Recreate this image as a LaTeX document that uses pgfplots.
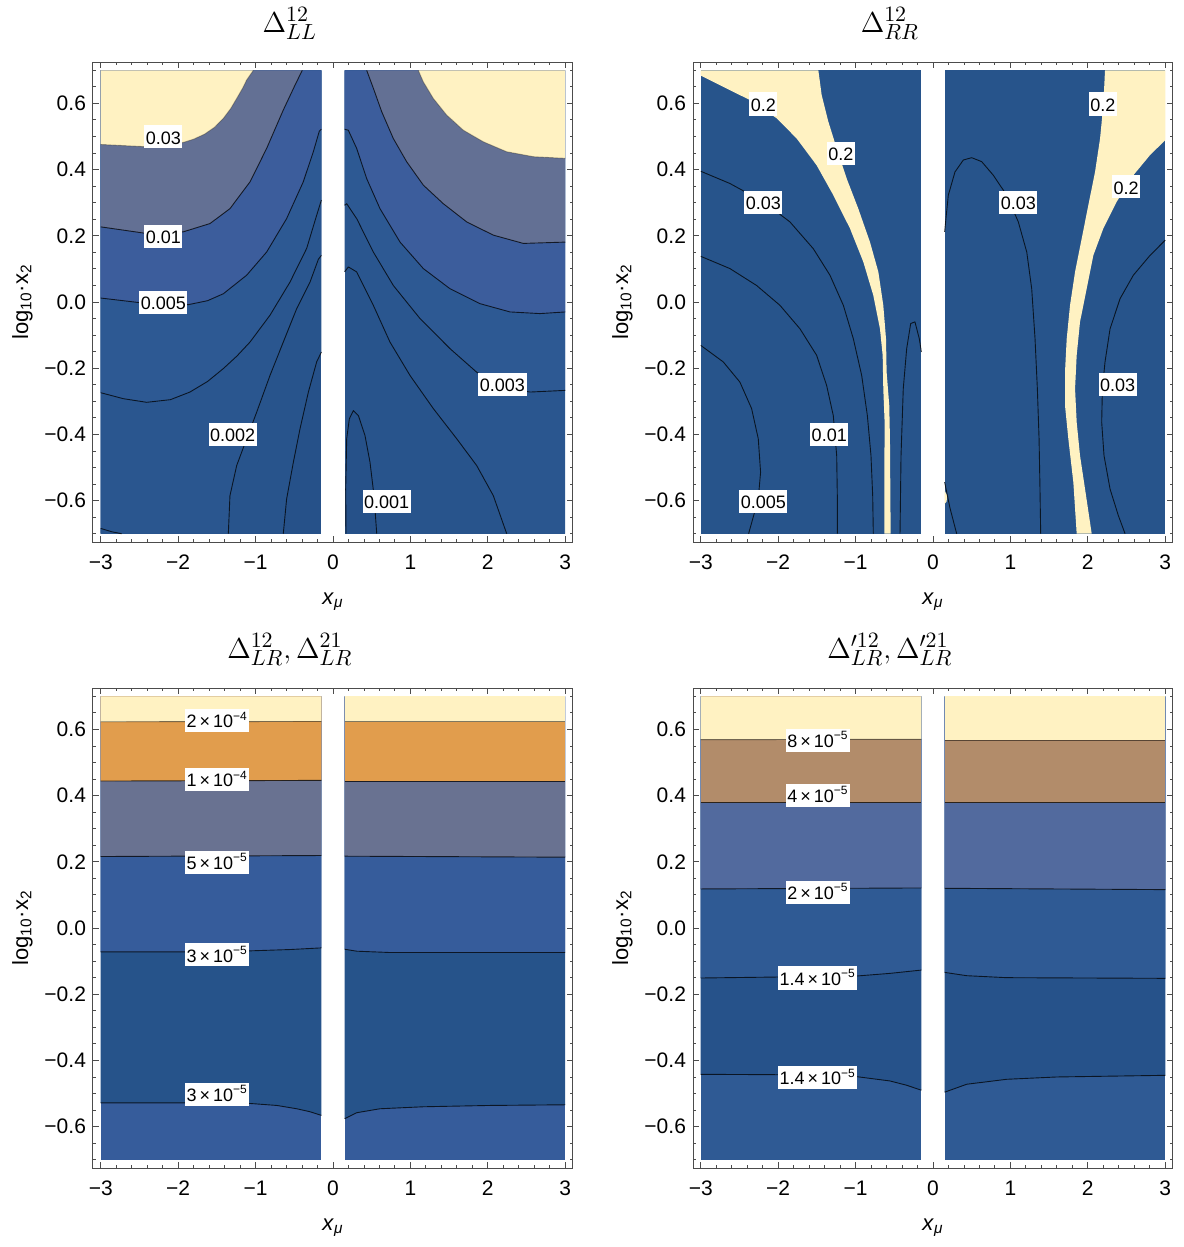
\documentclass[border=0pt]{standalone}
\usepackage{fontspec}
\setmainfont{Liberation Sans}
\usepackage{pgfplots}
\pgfplotsset{compat=1.18}

\definecolor{cYel}{RGB}{255,242,194}
% Delta_LL bands
\definecolor{cB0}{RGB}{38,81,137}
\definecolor{cB1}{RGB}{40,84,140}
\definecolor{cB2}{RGB}{42,86,143}
\definecolor{cB3}{RGB}{45,89,147}
\definecolor{cB4}{RGB}{60,93,156}
\definecolor{cB5}{RGB}{99,112,148}
% Delta_RR
\definecolor{cDk2}{RGB}{39,84,139}
% Delta_LR
\definecolor{cOr}{RGB}{225,157,77}
\definecolor{cGr3}{RGB}{105,114,145}
\definecolor{cBl3}{RGB}{54,92,155}
\definecolor{cDk3}{RGB}{38,83,138}
% Delta'_LR
\definecolor{cBr}{RGB}{178,140,106}
\definecolor{cBg4}{RGB}{82,106,158}
\definecolor{cBl4}{RGB}{47,90,148}
\definecolor{cDk4}{RGB}{38,82,138}

\tikzset{lbl/.style={fill=white, inner xsep=0.8pt, inner ysep=1.6pt,
  text height=7.8pt, text depth=0.6pt, font=\fontsize{9}{10}\selectfont}}

\pgfplotsset{
  reg/.style={fill=#1, draw=none},
  cline/.style={black, opacity=0.75, line width=0.45pt, line join=round},
  panel/.style={
    scale only axis, width=240pt, height=240pt,
    xmin=-3.1, xmax=3.1, ymin=-0.725, ymax=0.725,
    xtick={-3,-2,-1,0,1,2,3},
    xticklabels={−3,−2,−1,0,1,2,3},
    ytick={-0.6,-0.4,-0.2,0,0.2,0.4,0.6},
    yticklabels={−0.6,−0.4,−0.2,0.0,0.2,0.4,0.6},
    minor x tick num=4, minor y tick num=3,
    extra y ticks={-0.7,-0.65,0.65,0.7}, extra y tick labels={},
    extra y tick style={major tick length=1.7pt},
    tick align=inside, tick pos=both,
    major tick length=2.8pt, minor tick length=1.7pt,
    every tick/.style={black!70, line width=0.45pt},
    axis line style={black!70, line width=0.5pt},
    tick label style={font=\fontsize{10.5}{12}\selectfont},
    xticklabel style={anchor=base, yshift=-13.5pt},
    title style={at={(0.41,1)}, anchor=base, yshift=9pt,
      font=\fontsize{15}{18}\selectfont},
    xlabel={\textit{x}\textsubscript{\textit{μ}}},
    ylabel={log\textsubscript{10}·x\textsubscript{2}},
    label style={font=\fontsize{11}{13}\selectfont},
    xlabel style={at={(axis description cs:0.5,-0.13)}, anchor=base},
    ylabel style={at={(axis description cs:-0.135,0.5)}, anchor=base},
  },
}

\begin{document}
\begin{tikzpicture}
\useasboundingbox (0,0) rectangle (591.5pt,-623.5pt);

% ---------------- Delta_LL ----------------
\begin{axis}[panel, at={(46.5pt,-271pt)}, anchor=south west,
  title={$\Delta^{12}_{LL}$}]
% left half
\addplot[reg=cB0] coordinates {(-3,-0.7) (-0.15,-0.7) (-0.15,0.7) (-3,0.7)};
\addplot[reg=cB1] coordinates {(-0.642,-0.70) (-0.599,-0.595) (-0.512,-0.484) (-0.426,-0.383) (-0.318,-0.272) (-0.211,-0.181) (-0.15,-0.151) (-0.15,0.7) (-3,0.7) (-3,-0.7)};
\addplot[reg=cB2] coordinates {(-1.352,-0.70) (-1.331,-0.585) (-1.244,-0.494) (-1.115,-0.413) (-0.986,-0.333) (-0.814,-0.222) (-0.642,-0.121) (-0.469,-0.020) (-0.297,0.060) (-0.189,0.129) (-0.15,0.141) (-0.15,0.7) (-3,0.7) (-3,-0.7)};
\addplot[reg=cB1] coordinates {(-3,-0.684) (-2.859,-0.694) (-2.730,-0.70) (-3,-0.70)};
\addplot[reg=cB3] coordinates {(-3,-0.274) (-2.709,-0.292) (-2.407,-0.303) (-2.1,-0.295) (-1.848,-0.272) (-1.62,-0.240) (-1.416,-0.201) (-1.24,-0.163) (-1.072,-0.121) (-0.814,-0.040) (-0.556,0.060) (-0.340,0.162) (-0.211,0.262) (-0.15,0.308) (-0.15,0.7) (-3,0.7)};
\addplot[reg=cB4] coordinates {(-3,0.012) (-2.494,-0.002) (-1.869,-0.008) (-1.62,0.004) (-1.416,0.025) (-1.115,0.081) (-0.857,0.151) (-0.599,0.252) (-0.384,0.363) (-0.254,0.454) (-0.177,0.516) (-0.15,0.522) (-0.15,0.7) (-3,0.7)};
\addplot[reg=cB5] coordinates {(-3,0.227) (-2.407,0.207) (-1.934,0.212) (-1.589,0.237) (-1.331,0.282) (-1.072,0.363) (-0.857,0.464) (-0.642,0.580) (-0.491,0.655) (-0.397,0.70) (-3,0.7)};
\addplot[reg=cYel] coordinates {(-3,0.476) (-2.407,0.469) (-2.1,0.474) (-1.934,0.482) (-1.80,0.492) (-1.66,0.507) (-1.53,0.528) (-1.416,0.555) (-1.32,0.585) (-1.244,0.615) (-1.17,0.645) (-1.115,0.671) (-1.029,0.70) (-3,0.7)};
% right half
\addplot[reg=cB1] coordinates {(0.15,-0.7) (3,-0.7) (3,0.7) (0.15,0.7)};
\addplot[reg=cB0] coordinates {(0.168,-0.70) (0.164,-0.565) (0.177,-0.413) (0.211,-0.353) (0.263,-0.328) (0.328,-0.343) (0.413,-0.403) (0.478,-0.484) (0.530,-0.585) (0.565,-0.70)};
\addplot[reg=cB2] coordinates {(0.15,0.091) (0.198,0.106) (0.306,0.091) (0.521,-0.010) (0.736,-0.121) (0.995,-0.222) (1.296,-0.322) (1.598,-0.413) (1.856,-0.494) (2.071,-0.585) (2.244,-0.70) (3,-0.7) (3,0.7) (0.15,0.7)};
\addplot[reg=cB3] coordinates {(0.15,0.292) (0.177,0.297) (0.306,0.252) (0.521,0.151) (0.779,0.050) (1.124,-0.050) (1.512,-0.141) (1.856,-0.212) (2.201,-0.257) (2.545,-0.272) (3,-0.267) (3,0.7) (0.15,0.7)};
\addplot[reg=cB4] coordinates {(0.15,0.522) (0.198,0.519) (0.306,0.464) (0.435,0.373) (0.607,0.282) (0.866,0.181) (1.167,0.101) (1.512,0.040) (1.899,-0.005) (2.287,-0.030) (2.674,-0.035) (3,-0.030) (3,0.7) (0.15,0.7)};
\addplot[reg=cB5] coordinates {(0.435,0.70) (0.521,0.646) (0.629,0.575) (0.779,0.494) (0.951,0.424) (1.167,0.353) (1.425,0.297) (1.727,0.242) (2.071,0.202) (2.459,0.177) (3,0.181) (3,0.7)};
\addplot[reg=cYel] coordinates {(1.102,0.70) (1.167,0.665) (1.296,0.615) (1.468,0.565) (1.684,0.519) (1.942,0.484) (2.243,0.454) (2.588,0.439) (3,0.434) (3,0.7)};
% contour lines
\addplot[cline] coordinates {(-0.642,-0.70) (-0.599,-0.595) (-0.512,-0.484) (-0.426,-0.383) (-0.318,-0.272) (-0.211,-0.181) (-0.15,-0.151)};
\addplot[cline] coordinates {(-1.352,-0.70) (-1.331,-0.585) (-1.244,-0.494) (-1.115,-0.413) (-0.986,-0.333) (-0.814,-0.222) (-0.642,-0.121) (-0.469,-0.020) (-0.297,0.060) (-0.189,0.129) (-0.15,0.141)};
\addplot[cline] coordinates {(-3,-0.684) (-2.859,-0.694) (-2.730,-0.70)};
\addplot[cline] coordinates {(-3,-0.274) (-2.709,-0.292) (-2.407,-0.303) (-2.1,-0.295) (-1.848,-0.272) (-1.62,-0.240) (-1.416,-0.201) (-1.24,-0.163) (-1.072,-0.121) (-0.814,-0.040) (-0.556,0.060) (-0.340,0.162) (-0.211,0.262) (-0.15,0.308)};
\addplot[cline] coordinates {(-3,0.012) (-2.494,-0.002) (-1.869,-0.008) (-1.62,0.004) (-1.416,0.025) (-1.115,0.081) (-0.857,0.151) (-0.599,0.252) (-0.384,0.363) (-0.254,0.454) (-0.177,0.516) (-0.15,0.522)};
\addplot[cline] coordinates {(-3,0.227) (-2.407,0.207) (-1.934,0.212) (-1.589,0.237) (-1.331,0.282) (-1.072,0.363) (-0.857,0.464) (-0.642,0.580) (-0.491,0.655) (-0.397,0.70)};
\addplot[cline, opacity=0.3] coordinates {(-3,0.476) (-2.407,0.469) (-2.1,0.474) (-1.934,0.482) (-1.80,0.492) (-1.66,0.507) (-1.53,0.528) (-1.416,0.555) (-1.32,0.585) (-1.244,0.615) (-1.17,0.645) (-1.115,0.671) (-1.029,0.70)};
\addplot[cline] coordinates {(0.168,-0.70) (0.164,-0.565) (0.177,-0.413) (0.211,-0.353) (0.263,-0.328) (0.328,-0.343) (0.413,-0.403) (0.478,-0.484) (0.530,-0.585) (0.565,-0.70)};
\addplot[cline] coordinates {(0.15,0.091) (0.198,0.106) (0.306,0.091) (0.521,-0.010) (0.736,-0.121) (0.995,-0.222) (1.296,-0.322) (1.598,-0.413) (1.856,-0.494) (2.071,-0.585) (2.244,-0.70)};
\addplot[cline] coordinates {(0.15,0.292) (0.177,0.297) (0.306,0.252) (0.521,0.151) (0.779,0.050) (1.124,-0.050) (1.512,-0.141) (1.856,-0.212) (2.201,-0.257) (2.545,-0.272) (3,-0.267)};
\addplot[cline] coordinates {(0.15,0.522) (0.198,0.519) (0.306,0.464) (0.435,0.373) (0.607,0.282) (0.866,0.181) (1.167,0.101) (1.512,0.040) (1.899,-0.005) (2.287,-0.030) (2.674,-0.035) (3,-0.030)};
\addplot[cline] coordinates {(0.435,0.70) (0.521,0.646) (0.629,0.575) (0.779,0.494) (0.951,0.424) (1.167,0.353) (1.425,0.297) (1.727,0.242) (2.071,0.202) (2.459,0.177) (3,0.181)};
\addplot[cline, opacity=0.3] coordinates {(1.102,0.70) (1.167,0.665) (1.296,0.615) (1.468,0.565) (1.684,0.519) (1.942,0.484) (2.243,0.454) (2.588,0.439) (3,0.434)};
\node[lbl] at (axis cs:-2.192,0.499) {0.03};
\node[lbl] at (axis cs:-2.192,0.199) {0.01};
\node[lbl] at (axis cs:-2.192,-0.002) {0.005};
\node[lbl] at (axis cs:-1.296,-0.401) {0.002};
\node[lbl] at (axis cs:2.188,-0.250) {0.003};
\node[lbl] at (axis cs:0.693,-0.602) {0.001};
\end{axis}

% ---------------- Delta_RR ----------------
\begin{axis}[panel, at={(346.5pt,-271pt)}, anchor=south west,
  title={$\Delta^{12}_{RR}$}]
\addplot[reg=cDk2] coordinates {(-3,-0.7) (-0.15,-0.7) (-0.15,0.7) (-3,0.7)};
\addplot[reg=cDk2] coordinates {(0.15,-0.7) (3,-0.7) (3,0.7) (0.15,0.7)};
\addplot[reg=cYel] coordinates {(-3,0.684) (-2.709,0.650) (-2.364,0.610) (-2.019,0.555) (-1.761,0.494) (-1.503,0.413) (-1.288,0.323) (-1.072,0.222) (-0.900,0.121) (-0.771,0.020) (-0.685,-0.081) (-0.650,-0.161) (-0.642,-0.262) (-0.625,-0.363) (-0.629,-0.565) (-0.629,-0.70) (-0.547,-0.70) (-0.556,-0.413) (-0.565,-0.312) (-0.599,-0.212) (-0.607,-0.111) (-0.642,-0.010) (-0.706,0.091) (-0.814,0.181) (-0.965,0.282) (-1.115,0.373) (-1.244,0.464) (-1.352,0.545) (-1.438,0.625) (-1.481,0.70) (-3,0.70)};
\addplot[reg=cYel] coordinates {(2.222,0.70) (2.200,0.595) (2.158,0.494) (2.093,0.393) (2.007,0.293) (1.921,0.192) (1.835,0.091) (1.770,-0.010) (1.727,-0.111) (1.705,-0.212) (1.705,-0.312) (1.748,-0.413) (1.813,-0.545) (1.856,-0.70) (2.050,-0.70) (1.964,-0.565) (1.899,-0.464) (1.856,-0.363) (1.835,-0.262) (1.856,-0.161) (1.899,-0.060) (1.985,0.040) (2.071,0.141) (2.200,0.222) (2.373,0.303) (2.588,0.383) (2.804,0.444) (3,0.489) (3,0.70)};
\addplot[reg=cYel] coordinates {(0.15,-0.570) (0.185,-0.585) (0.175,-0.603) (0.15,-0.610)};
\addplot[cline] coordinates {(-3,0.395) (-2.623,0.358) (-2.192,0.303) (-1.848,0.242) (-1.546,0.161) (-1.331,0.081) (-1.158,-0.010) (-1.029,-0.111) (-0.921,-0.222) (-0.848,-0.343) (-0.801,-0.464) (-0.779,-0.585) (-0.771,-0.70)};
\addplot[cline] coordinates {(-3,0.138) (-2.623,0.101) (-2.279,0.050) (-1.977,-0.010) (-1.718,-0.081) (-1.503,-0.161) (-1.374,-0.252) (-1.288,-0.343) (-1.244,-0.464) (-1.236,-0.585) (-1.236,-0.70)};
\addplot[cline] coordinates {(-3,-0.131) (-2.709,-0.181) (-2.494,-0.242) (-2.343,-0.322) (-2.257,-0.413) (-2.227,-0.514) (-2.257,-0.595) (-2.382,-0.70)};
\addplot[cline] coordinates {(-0.426,-0.70) (-0.413,-0.464) (-0.384,-0.262) (-0.340,-0.141) (-0.288,-0.065) (-0.233,-0.060) (-0.177,-0.111) (-0.15,-0.151)};
\addplot[cline] coordinates {(0.15,0.212) (0.198,0.323) (0.284,0.393) (0.392,0.429) (0.500,0.436) (0.629,0.424) (0.779,0.383) (0.951,0.323) (1.102,0.242) (1.211,0.151) (1.275,0.040) (1.318,-0.111) (1.348,-0.262) (1.370,-0.413) (1.382,-0.565) (1.391,-0.70)};
\addplot[cline] coordinates {(3,0.187) (2.804,0.141) (2.588,0.081) (2.416,0.010) (2.287,-0.081) (2.222,-0.181) (2.188,-0.262) (2.179,-0.363) (2.209,-0.464) (2.287,-0.565) (2.394,-0.645) (2.481,-0.70)};
\addplot[cline] coordinates {(0.15,-0.544) (0.220,-0.623) (0.306,-0.70)};
\node[lbl] at (axis cs:-2.192,0.598) {0.2};
\node[lbl] at (axis cs:-1.189,0.449) {0.2};
\node[lbl] at (axis cs:-2.192,0.300) {0.03};
\node[lbl] at (axis cs:-1.340,-0.401) {0.01};
\node[lbl] at (axis cs:-2.192,-0.602) {0.005};
\node[lbl] at (axis cs:2.194,0.598) {0.2};
\node[lbl] at (axis cs:1.102,0.300) {0.03};
\node[lbl] at (axis cs:2.494,0.348) {0.2};
\node[lbl] at (axis cs:2.386,-0.250) {0.03};
\end{axis}

% ---------------- Delta_LR ----------------
\begin{axis}[panel, at={(46.5pt,-584pt)}, anchor=south west,
  title={$\Delta^{12}_{LR}, \Delta^{21}_{LR}$}]
\addplot[reg=cBl3] coordinates {(-3,-0.7) (-0.15,-0.7) (-0.15,0.7) (-3,0.7)};
\addplot[reg=cDk3] coordinates {(-3,-0.528) (-1.848,-0.528) (-1.072,-0.530) (-0.727,-0.536) (-0.469,-0.546) (-0.297,-0.555) (-0.15,-0.566) (-0.15,0.7) (-3,0.7)};
\addplot[reg=cBl3] coordinates {(-3,-0.072) (-1.848,-0.072) (-1.072,-0.069) (-0.556,-0.065) (-0.15,-0.060) (-0.15,0.7) (-3,0.7)};
\addplot[reg=cGr3] coordinates {(-3,0.216) (-0.15,0.219) (-0.15,0.7) (-3,0.7)};
\addplot[reg=cOr] coordinates {(-3,0.444) (-0.15,0.446) (-0.15,0.7) (-3,0.7)};
\addplot[reg=cYel] coordinates {(-3,0.623) (-0.15,0.624) (-0.15,0.7) (-3,0.7)};
\addplot[reg=cBl3] coordinates {(0.15,-0.7) (3,-0.7) (3,0.7) (0.15,0.7)};
\addplot[reg=cDk3] coordinates {(0.15,-0.576) (0.220,-0.568) (0.306,-0.558) (0.607,-0.546) (1.167,-0.540) (2.028,-0.536) (3,-0.534) (3,0.7) (0.15,0.7)};
\addplot[reg=cBl3] coordinates {(0.15,-0.064) (0.306,-0.070) (0.736,-0.074) (3,-0.074) (3,0.7) (0.15,0.7)};
\addplot[reg=cGr3] coordinates {(0.15,0.217) (3,0.214) (3,0.7) (0.15,0.7)};
\addplot[reg=cOr] coordinates {(0.15,0.444) (3,0.444) (3,0.7) (0.15,0.7)};
\addplot[reg=cYel] coordinates {(0.15,0.623) (3,0.623) (3,0.7) (0.15,0.7)};
\addplot[cline] coordinates {(-3,-0.528) (-1.848,-0.528) (-1.072,-0.530) (-0.727,-0.536) (-0.469,-0.546) (-0.297,-0.555) (-0.15,-0.566)};
\addplot[cline] coordinates {(-3,-0.072) (-1.848,-0.072) (-1.072,-0.069) (-0.556,-0.065) (-0.15,-0.060)};
\addplot[cline] coordinates {(-3,0.216) (-0.15,0.219)};
\addplot[cline] coordinates {(-3,0.444) (-0.15,0.446)};
\addplot[cline, opacity=0.5] coordinates {(-3,0.623) (-0.15,0.624)};
\addplot[cline] coordinates {(0.15,-0.576) (0.220,-0.568) (0.306,-0.558) (0.607,-0.546) (1.167,-0.540) (2.028,-0.536) (3,-0.534)};
\addplot[cline] coordinates {(0.15,-0.064) (0.306,-0.070) (0.736,-0.074) (3,-0.074)};
\addplot[cline] coordinates {(0.15,0.217) (3,0.214)};
\addplot[cline] coordinates {(0.15,0.444) (3,0.444)};
\addplot[cline, opacity=0.5] coordinates {(0.15,0.623) (3,0.623)};
\node[lbl] at (axis cs:-1.495,0.627) {2\,×\,10\textsuperscript{−4}};
\node[lbl] at (axis cs:-1.495,0.448) {1\,×\,10\textsuperscript{−4}};
\node[lbl] at (axis cs:-1.495,0.199) {5\,×\,10\textsuperscript{−5}};
\node[lbl] at (axis cs:-1.495,-0.081) {3\,×\,10\textsuperscript{−5}};
\node[lbl] at (axis cs:-1.495,-0.502) {3\,×\,10\textsuperscript{−5}};
\end{axis}

% ---------------- Delta'_LR ----------------
\begin{axis}[panel, at={(346.5pt,-584pt)}, anchor=south west,
  title={$\Delta'^{12}_{LR}, \Delta'^{21}_{LR}$}]
\addplot[reg=cBl4] coordinates {(-3,-0.7) (-0.15,-0.7) (-0.15,0.7) (-3,0.7)};
\addplot[reg=cDk4] coordinates {(-3,-0.442) (-2.063,-0.443) (-0.986,-0.449) (-0.556,-0.462) (-0.340,-0.475) (-0.15,-0.490) (-0.15,0.7) (-3,0.7)};
\addplot[reg=cBl4] coordinates {(-3,-0.151) (-0.986,-0.145) (-0.556,-0.137) (-0.15,-0.127) (-0.15,0.7) (-3,0.7)};
\addplot[reg=cBg4] coordinates {(-3,0.118) (-0.15,0.121) (-0.15,0.7) (-3,0.7)};
\addplot[reg=cBr] coordinates {(-3,0.379) (-0.15,0.379) (-0.15,0.7) (-3,0.7)};
\addplot[reg=cYel] coordinates {(-3,0.569) (-0.15,0.570) (-0.15,0.7) (-3,0.7)};
\addplot[reg=cBl4] coordinates {(0.15,-0.7) (3,-0.7) (3,0.7) (0.15,0.7)};
\addplot[reg=cDk4] coordinates {(0.15,-0.496) (0.435,-0.472) (0.951,-0.457) (1.598,-0.450) (3,-0.445) (3,0.7) (0.15,0.7)};
\addplot[reg=cBl4] coordinates {(0.15,-0.134) (0.435,-0.144) (0.951,-0.150) (3,-0.152) (3,0.7) (0.15,0.7)};
\addplot[reg=cBg4] coordinates {(0.15,0.120) (3,0.116) (3,0.7) (0.15,0.7)};
\addplot[reg=cBr] coordinates {(0.15,0.378) (3,0.378) (3,0.7) (0.15,0.7)};
\addplot[reg=cYel] coordinates {(0.15,0.568) (3,0.568) (3,0.7) (0.15,0.7)};
\addplot[cline] coordinates {(-3,-0.442) (-2.063,-0.443) (-0.986,-0.449) (-0.556,-0.462) (-0.340,-0.475) (-0.15,-0.490)};
\addplot[cline] coordinates {(-3,-0.151) (-0.986,-0.145) (-0.556,-0.137) (-0.15,-0.127)};
\addplot[cline] coordinates {(-3,0.118) (-0.15,0.121)};
\addplot[cline] coordinates {(-3,0.379) (-0.15,0.379)};
\addplot[cline, opacity=0.5] coordinates {(-3,0.569) (-0.15,0.570)};
\addplot[cline] coordinates {(0.15,-0.496) (0.435,-0.472) (0.951,-0.457) (1.598,-0.450) (3,-0.445)};
\addplot[cline] coordinates {(0.15,-0.134) (0.435,-0.144) (0.951,-0.150) (3,-0.152)};
\addplot[cline] coordinates {(0.15,0.120) (3,0.116)};
\addplot[cline] coordinates {(0.15,0.378) (3,0.378)};
\addplot[cline, opacity=0.5] coordinates {(0.15,0.568) (3,0.568)};
\node[lbl] at (axis cs:-1.486,0.567) {8\,×\,10\textsuperscript{−5}};
\node[lbl] at (axis cs:-1.486,0.401) {4\,×\,10\textsuperscript{−5}};
\node[lbl] at (axis cs:-1.486,0.108) {2\,×\,10\textsuperscript{−5}};
\node[lbl] at (axis cs:-1.490,-0.151) {1.4\,×\,10\textsuperscript{−5}};
\node[lbl] at (axis cs:-1.490,-0.452) {1.4\,×\,10\textsuperscript{−5}};
\end{axis}
\end{tikzpicture}
\end{document}
